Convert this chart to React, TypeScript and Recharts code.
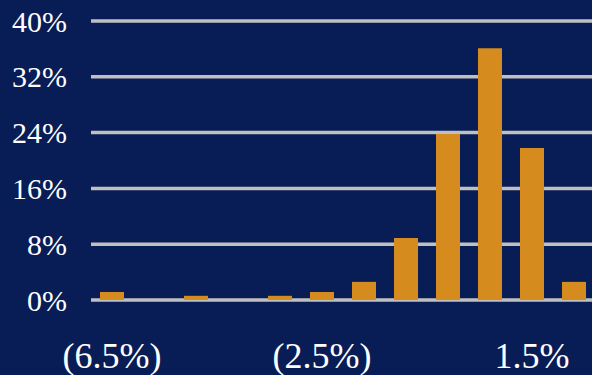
import React from "react";
import { BarChart, Bar, XAxis, YAxis, CartesianGrid } from "recharts";

const categories = ["(6.5%)", "(5.7%)", "(4.9%)", "(4.1%)", "(3.3%)", "(2.5%)", "(1.7%)", "(0.9%)", "(0.1%)", "0.7%", "1.5%", "2.3%"];
const shares = [1.15, 0, 0.6, 0, 0.6, 1.15, 2.6, 8.9, 23.8, 36.1, 21.8, 2.6];
const yTicks = [0, 8, 16, 24, 32, 40];

const data = categories.map((c, i) => ({ cat: c, value: shares[i] }));

const FONT = "Liberation Serif";

export default function App() {
  return (
    <div style={{ position: "absolute", left: 0, top: 0, width: 592, height: 375, overflow: "hidden", background: "#081c55" }}>
      <BarChart
        width={595}
        height={375}
        data={data}
        margin={{ top: 21, right: 0, bottom: 0, left: 0 }}
        barSize={24}
      >
        <CartesianGrid
          vertical={false}
          horizontal={{ stroke: "#c0c0c0", strokeWidth: 3.5, strokeLinecap: "round" }}
          stroke="#c0c0c0"
          strokeWidth={3.5}
        />
        <XAxis
          dataKey="cat"
          interval={4}
          axisLine={false}
          tickLine={false}
          height={75}
          tickMargin={36}
          tick={{ fill: "#ffffff", fontSize: 36, fontFamily: FONT }}
        />
        <YAxis
          width={91}
          domain={[0, 40]}
          ticks={yTicks}
          axisLine={false}
          tickLine={false}
          tickMargin={18}
          tickFormatter={(v: number) => `${v}%`}
          tick={{ fill: "#ffffff", fontSize: 30, fontFamily: FONT }}
        />
        <Bar dataKey="value" fill="#d68b1e" isAnimationActive={false} />
      </BarChart>
    </div>
  );
}
